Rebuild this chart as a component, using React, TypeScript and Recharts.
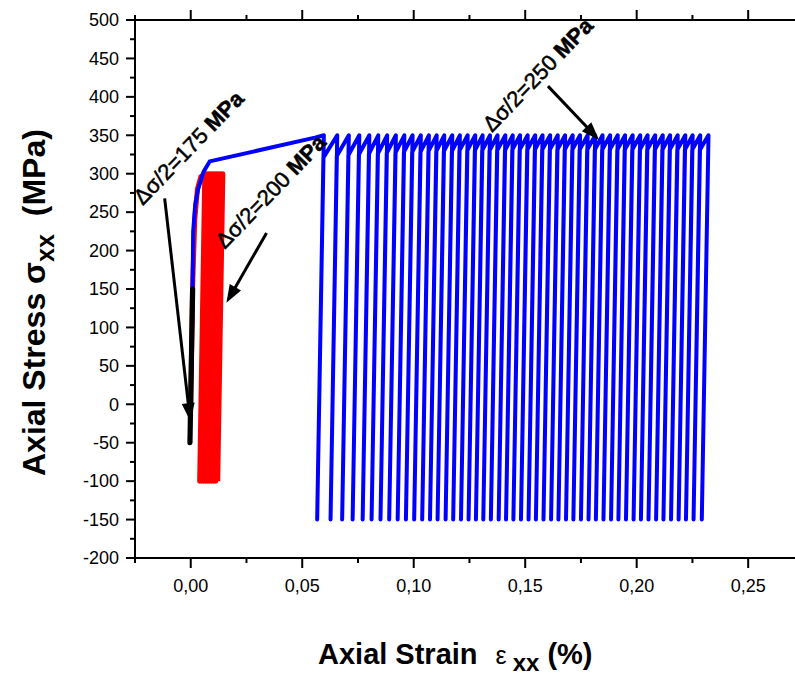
import { LineChart, Line, XAxis, YAxis, ReferenceLine, ReferenceDot, Label } from 'recharts'

// axis ticks (minor + major)
const strainTicks = [-0.025, 0, 0.025, 0.05, 0.075, 0.1, 0.125, 0.15, 0.175, 0.2, 0.225, 0.25]
const stressTicks = [
  -200, -175, -150, -125, -100, -75, -50, -25, 0, 25, 50, 75, 100, 125, 150, 175, 200, 225, 250, 275, 300, 325,
  350, 375, 400, 425, 450, 475, 500,
]

// Δσ/2 = 250 MPa (blue)
const blueLoadStrain = [0, 0.0007, 0.0011, 0.002, 0.0033, 0.0058, 0.0085, 0.0557]
const blueLoadStress = [0, 120, 225, 260, 280, 303, 316, 347]
const bluePeakStress = 350
const blueValleyStress = -150
const bluePeakStrain = [
  0.0597, 0.0657, 0.0709, 0.0756, 0.0801, 0.0841, 0.0881, 0.092, 0.0958, 0.0995,
  0.1032, 0.1068, 0.1103, 0.1137, 0.1173, 0.1207, 0.1242, 0.1276, 0.1309, 0.1342,
  0.1376, 0.1411, 0.1444, 0.1477, 0.1511, 0.1545, 0.1578, 0.1612, 0.1646, 0.1679,
  0.1713, 0.1746, 0.178, 0.1814, 0.1847, 0.1881, 0.1915, 0.1948, 0.1982, 0.2016,
  0.2049, 0.2083, 0.2117, 0.215, 0.2184, 0.2218, 0.2251, 0.2285, 0.2322,
]
const blueValleyStrain = [
  0.0567, 0.0627, 0.0679, 0.0726, 0.0771, 0.0811, 0.0851, 0.089, 0.0928, 0.0965,
  0.1002, 0.1038, 0.1073, 0.1107, 0.1143, 0.1177, 0.1212, 0.1246, 0.1279, 0.1312,
  0.1346, 0.1381, 0.1414, 0.1447, 0.1481, 0.1515, 0.1548, 0.1582, 0.1616, 0.1649,
  0.1683, 0.1716, 0.175, 0.1784, 0.1817, 0.1851, 0.1885, 0.1918, 0.1952, 0.1986,
  0.2019, 0.2053, 0.2087, 0.212, 0.2154, 0.2188, 0.2221, 0.2255, 0.2292,
]
const blueKneeStrain = [
  0.0595, 0.0655, 0.0707, 0.0754, 0.0799, 0.0839, 0.0879, 0.0918, 0.0956, 0.0993,
  0.103, 0.1066, 0.1101, 0.1135, 0.1171, 0.1205, 0.124, 0.1274, 0.1307, 0.134,
  0.1374, 0.1409, 0.1442, 0.1475, 0.1509, 0.1543, 0.1576, 0.161, 0.1644, 0.1677,
  0.1711, 0.1744, 0.1778, 0.1812, 0.1845, 0.1879, 0.1913, 0.1946, 0.198, 0.2014,
  0.2047, 0.2081, 0.2115, 0.2148, 0.2182, 0.2216, 0.2249, 0.2283,
]
const blueKneeStress = [
  321, 323, 324, 325, 326, 326, 327, 327, 328, 328,
  328, 329, 329, 329, 329, 330, 330, 330, 330, 330,
  330, 330, 331, 331, 331, 331, 331, 331, 331, 331,
  331, 331, 331, 331, 331, 331, 331, 331, 331, 331,
  331, 331, 331, 331, 331, 331, 331, 331,
]

// Δσ/2 = 200 MPa (red)
const redLoadStrain = [0, 0.0008, 0.0018, 0.003, 0.0045]
const redLoadStress = [0, 150, 240, 280, 296]
const redPeakStress = 300
const redValleyStress = -100
const redPeakStrain = [0.0063, 0.0072, 0.0081, 0.009, 0.0099, 0.0108, 0.0117, 0.0126, 0.0135, 0.0144]
const redValleyStrain = [0.004, 0.0049, 0.0058, 0.0067, 0.0076, 0.0085, 0.0094, 0.0103, 0.0112, 0.0121]

// Δσ/2 = 175 MPa (black)
const blackStrain = [0, 0.0008, -0.0004, 0.0009, -0.0003, 0.0009, -0.0003]
const blackStress = [0, 150, -50, 150, -50, 150, -50]

// annotations
const noteLabels = ['Δσ/2=175', 'Δσ/2=200', 'Δσ/2=250']
const noteStrain = [-0.0215, 0.0153, 0.1351]
const noteStress = [258, 201, 353]
const arrowFromStrain = [-0.0117, 0.034, 0.1602]
const arrowFromStress = [268, 223, 414]
const arrowToStrain = [-0.0002, 0.016, 0.1831]
const arrowToStress = [-22, 132, 344]

const blueData = blueLoadStrain.map((x, i) => ({ x, y: blueLoadStress[i] }))
bluePeakStrain.forEach((p, i) => {
  blueData.push({ x: p, y: bluePeakStress })
  blueData.push({ x: blueValleyStrain[i], y: blueValleyStress })
  if (i < blueKneeStrain.length) blueData.push({ x: blueKneeStrain[i], y: blueKneeStress[i] })
})

const redData = redLoadStrain.map((x, i) => ({ x, y: redLoadStress[i] }))
redPeakStrain.forEach((p, i) => {
  redData.push({ x: p, y: redPeakStress })
  redData.push({ x: redValleyStrain[i], y: redValleyStress })
})

const blackData = blackStrain.map((x, i) => ({ x, y: blackStress[i] }))

const FONT = '"Liberation Sans", Arial, sans-serif'
const axisStyle = { stroke: '#000', strokeWidth: 2 }

const isMajorStrain = (v: number) => Math.round(v * 1000) % 50 === 0
const isMajorStress = (v: number) => v % 50 === 0
const fmtStrain = (v: number) => v.toFixed(2).replace('.', ',')

const BottomTick = (props: any) => {
  const { x, y, payload } = props
  const major = isMajorStrain(payload.value)
  return (
    <g>
      <line x1={x} y1={y} x2={x} y2={y + (major ? 10 : 5)} stroke="#000" strokeWidth={2} />
      {major && (
        <text x={x} y={y + 34} textAnchor="middle" fontSize={18} fontFamily={FONT} fill="#000">
          {fmtStrain(payload.value)}
        </text>
      )}
    </g>
  )
}

const TopTick = (props: any) => {
  const { x, y, payload } = props
  const major = isMajorStrain(payload.value)
  return <line x1={x} y1={y} x2={x} y2={y - (major ? 10 : 5)} stroke="#000" strokeWidth={2} />
}

const LeftTick = (props: any) => {
  const { x, y, payload } = props
  const major = isMajorStress(payload.value)
  return (
    <g>
      <line x1={x} y1={y} x2={x - (major ? 9 : 5)} y2={y} stroke="#000" strokeWidth={2} />
      {major && (
        <text x={x - 16} y={y} dy="0.35em" textAnchor="end" fontSize={18} fontFamily={FONT} fill="#000">
          {payload.value}
        </text>
      )}
    </g>
  )
}

const XTitle = () => (
  <text x={310} y={656} fontSize={29} fontWeight="bold" fontFamily={FONT} fill="#000">
    Axial Strain
    <tspan dx={18} fontWeight="normal" fontSize={25}>ε</tspan>
    <tspan dx={6} dy={7} fontSize={24}>xx</tspan>
    <tspan dx={8} dy={-7}>(%)</tspan>
  </text>
)

const YTitle = () => (
  <text
    x={37}
    y={468}
    transform="rotate(-90 37 468)"
    fontSize={32}
    fontWeight="bold"
    fontFamily={FONT}
    fill="#000"
  >
    Axial Stress σ
    <tspan dy={9} fontSize={25}>xx</tspan>
    <tspan dx={18} dy={-9}>(MPa)</tspan>
  </text>
)

const Arrow = (props: any) => {
  const { x1, y1, x2, y2 } = props
  const len = Math.hypot(x2 - x1, y2 - y1)
  const ux = (x2 - x1) / len
  const uy = (y2 - y1) / len
  const head = 18
  const half = 6.5
  const bx = x2 - ux * head
  const by = y2 - uy * head
  return (
    <g>
      <line x1={x1} y1={y1} x2={bx + ux * 2} y2={by + uy * 2} stroke="#000" strokeWidth={3} />
      <polygon
        points={`${x2},${y2} ${bx - uy * half},${by + ux * half} ${bx + uy * half},${by - ux * half}`}
        fill="#000"
      />
    </g>
  )
}

const Note = (props: any) => {
  const { cx, cy, text } = props
  return (
    <text
      x={cx}
      y={cy}
      transform={`rotate(-46 ${cx} ${cy})`}
      fontSize={22}
      fontFamily={FONT}
      fill="#000"
      stroke="#000"
      strokeWidth={0.5}
      style={{ whiteSpace: 'pre' }}
    >
      {text}
      <tspan fontWeight="bold"> MPa</tspan>
    </text>
  )
}

export default function App() {
  return (
    <div style={{ position: 'absolute', left: 8, top: 8, width: 787, height: 669, fontFamily: FONT }}>
      <LineChart width={787} height={669} margin={{ top: 2, right: 0, bottom: 19, left: 67 }}>
        <XAxis
          xAxisId="top"
          orientation="top"
          type="number"
          dataKey="x"
          domain={[-0.025, 0.271]}
          allowDataOverflow
          ticks={strainTicks}
          interval={0}
          height={10}
          tickSize={0}
          tickMargin={0}
          tick={(p: any) => <TopTick {...p} />}
          axisLine={axisStyle}
        />
        <XAxis
          type="number"
          dataKey="x"
          domain={[-0.025, 0.271]}
          allowDataOverflow
          ticks={strainTicks}
          interval={0}
          height={100}
          tickSize={0}
          tickMargin={0}
          tick={(p: any) => <BottomTick {...p} />}
          axisLine={axisStyle}
        >
          <Label content={() => <XTitle />} />
        </XAxis>
        <YAxis
          type="number"
          domain={[-200, 500]}
          allowDataOverflow
          ticks={stressTicks}
          interval={0}
          width={60}
          tickSize={0}
          tickMargin={0}
          tick={(p: any) => <LeftTick {...p} />}
          axisLine={axisStyle}
        >
          <Label content={() => <YTitle />} />
        </YAxis>
        <Line
          data={redData}
          dataKey="y"
          type="linear"
          stroke="#ff0000"
          strokeWidth={5}
          strokeLinejoin="round"
          dot={false}
          activeDot={false}
          isAnimationActive={false}
        />
        <Line
          data={blueData}
          dataKey="y"
          type="linear"
          stroke="#0000ff"
          strokeWidth={4}
          strokeLinejoin="round"
          strokeLinecap="round"
          dot={false}
          activeDot={false}
          isAnimationActive={false}
        />
        <Line
          data={blackData}
          dataKey="y"
          type="linear"
          stroke="#000"
          strokeWidth={5}
          strokeLinejoin="round"
          dot={false}
          activeDot={false}
          isAnimationActive={false}
        />
        {noteLabels.map((t, i) => (
          <ReferenceDot
            key={t}
            x={noteStrain[i]}
            y={noteStress[i]}
            r={0}
            shape={(p: any) => <Note {...p} text={t} />}
          />
        ))}
        {arrowFromStrain.map((s, i) => (
          <ReferenceLine
            key={i}
            segment={[
              { x: s, y: arrowFromStress[i] },
              { x: arrowToStrain[i], y: arrowToStress[i] },
            ]}
            shape={(p: any) => <Arrow {...p} />}
          />
        ))}
      </LineChart>
    </div>
  )
}
